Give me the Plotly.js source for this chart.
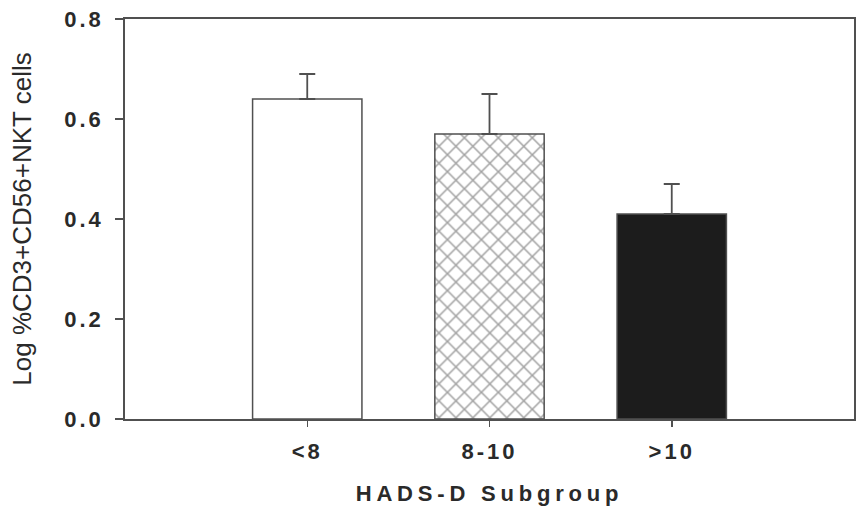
<!DOCTYPE html>
<html>
<head>
<meta charset="utf-8">
<script src="https://cdn.plot.ly/plotly-3.0.1.min.js"></script>
<style>
  html, body { margin: 0; padding: 0; background: #ffffff; }
  #chart { width: 858px; height: 511px; }
</style>
</head>
<body>
<div id="chart"></div>
<script>
// Data
const categories = ["<8", "8-10", ">10"];
const means = [0.64, 0.57, 0.41];
const errUp = [0.05, 0.08, 0.06];
const yTickVals = [0.0, 0.2, 0.4, 0.6, 0.8];
const yTickText = ["0.0", "0.2", "0.4", "0.6", "0.8"];

const fills = ["#ffffff", "#ffffff", "#1c1c1c"];
const patterns = ["", "x", ""];

const trace = {
  type: "bar",
  x: categories,
  y: means,
  width: 0.6,
  marker: {
    color: fills,
    line: { color: "#505050", width: 1.5 },
    pattern: { shape: patterns, fgcolor: "#3a3a3a", bgcolor: "#ffffff", size: 12, solidity: 0.24, fillmode: "overlay" }
  },
  error_y: {
    type: "data",
    symmetric: false,
    array: errUp,
    arrayminus: [0, 0, 0],
    color: "#505050",
    thickness: 1.8,
    width: 8
  },
  hoverinfo: "none"
};

const layout = {
  width: 858,
  height: 511,
  margin: { l: 125, r: 4, t: 19, b: 92 },
  paper_bgcolor: "#ffffff",
  plot_bgcolor: "#ffffff",
  showlegend: false,
  font: { family: "Liberation Sans, Arial, sans-serif", color: "#2a2a2a" },
  xaxis: {
    type: "category",
    range: [-1, 3],
    showgrid: false,
    zeroline: false,
    showline: true,
    linecolor: "#505050",
    linewidth: 1.8,
    mirror: true,
    ticks: "outside",
    ticklen: 6,
    tickwidth: 1.5,
    tickcolor: "#505050",
    tickfont: { size: 22, weight: "bold", color: "#2a2a2a" },
    ticklabelstandoff: 6,
    title: { text: "HADS-D Subgroup", font: { size: 22, weight: "bold", color: "#2a2a2a" }, standoff: 22 }
  },
  yaxis: {
    range: [0, 0.8],
    tickvals: yTickVals,
    ticktext: yTickText,
    showgrid: false,
    zeroline: false,
    showline: true,
    linecolor: "#505050",
    linewidth: 1.8,
    mirror: true,
    ticks: "outside",
    ticklen: 8,
    tickwidth: 1.5,
    tickcolor: "#505050",
    tickfont: { size: 22, weight: "bold", color: "#2a2a2a" },
    ticklabelstandoff: 7,
    title: { text: "Log %CD3+CD56+NKT cells", font: { size: 26, color: "#2a2a2a" }, standoff: 34 }
  }
};

Plotly.newPlot("chart", [trace], layout, { staticPlot: true }).then(function (gd) {
  gd.querySelectorAll(".xtick text, .ytick text").forEach(function (t) { t.style.letterSpacing = "3px"; });
  gd.querySelectorAll(".xtitle").forEach(function (t) { t.style.letterSpacing = "4.8px"; });
});
</script>
</body>
</html>
